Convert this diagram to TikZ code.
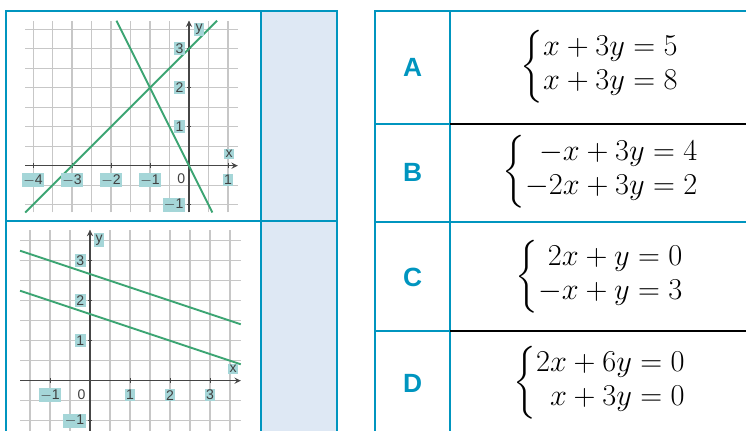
\documentclass[tikz,border=0pt]{standalone}
\usepackage{amsmath}
\usepackage{fontspec}
\usepackage{xcolor}
\newfontfamily\lblfont{Liberation Sans}
\definecolor{tabblue}{RGB}{0,149,191}
\definecolor{cellfill}{RGB}{222,232,244}
\definecolor{linegreen}{RGB}{60,165,115}
\definecolor{hlteal}{RGB}{165,214,216}
\definecolor{axisgray}{RGB}{70,70,70}

\begin{document}
\begin{tikzpicture}[x=0.02cm,y=-0.02cm,>=stealth,
  frame/.style={tabblue,line width=1.2pt},
  gridline/.style={black!22,line width=0.6pt},
  graphline/.style={linegreen,line width=1.1pt},
  axisline/.style={->,axisgray,line width=0.6pt},
  ticklbl/.style={fill=hlteal,inner sep=0.8pt,text=black!75,font=\lblfont\fontsize{8}{9}\selectfont},
  letter/.style={tabblue,font=\lblfont\bfseries\fontsize{15}{18}\selectfont},
  system/.style={font=\fontsize{16}{16}\selectfont}]

\useasboundingbox (0,0) rectangle (746,431);

\fill[cellfill] (261,11) rectangle (337,431);

\begin{scope}[shift={(189,165.7)},x=0.78cm,y=0.78cm]
\foreach \g in {-4,-3.5,...,1} \draw[gridline] (\g,-1.2) -- (\g,3.72);
\foreach \g in {-1,-0.5,...,3.5} \draw[gridline] (-4.2,\g) -- (1.25,\g);
\draw[axisline] (-4.2,0) -- (1.25,0);
\draw[axisline] (0,-1.2) -- (0,3.72);
\foreach \t in {-4,...,-1,1} \draw[axisgray] (\t,-0.06) -- (\t,0.06);
\foreach \t in {-1,1,2,3} \draw[axisgray] (-0.06,\t) -- (0.06,\t);
\draw[graphline] (-4.2,-1.2) -- (0.72,3.72);
\draw[graphline] (-1.86,3.72) -- (0.6,-1.2);
\foreach \t/\s in {-4/$-$4,-3/$-$3,-2/$-$2,-1/$-$1,1/1}
  \node[ticklbl] (xa\t) at (\t,-0.37) {\s};
\foreach \t/\s in {-1/$-$1,1/1,2/2,3/3}
  \node[ticklbl,anchor=east] (ya\t) at (-0.1,\t) {\s};
\node[ticklbl,fill=none] (oa) at (-0.2,-0.34) {0};
\node[ticklbl] (xla) at (1.03,0.3) {x};
\node[ticklbl] (yla) at (0.26,3.5) {y};
\end{scope}

\begin{scope}[shift={(90,380.7)},x=0.8cm,y=0.8cm]
\foreach \g in {-1.5,-1,...,3.5} \draw[gridline] (\g,-1.3) -- (\g,3.77);
\foreach \g in {-1,-0.5,...,3.5} \draw[gridline] (-1.75,\g) -- (3.77,\g);
\draw[axisline] (-1.75,0) -- (3.77,0);
\draw[axisline] (0,-1.3) -- (0,3.77);
\foreach \t in {-1,1,2,3} \draw[axisgray] (\t,-0.06) -- (\t,0.06);
\foreach \t in {-1,1,2,3} \draw[axisgray] (-0.06,\t) -- (0.06,\t);
\draw[graphline] (-1.75,3.25) -- (3.77,1.41);
\draw[graphline] (-1.75,2.25) -- (3.77,0.41);
\foreach \t/\s in {-1/$-$1,1/1,2/2,3/3}
  \node[ticklbl] (xb\t) at (\t,-0.36) {\s};
\foreach \t/\s in {-1/$-$1,1/1,2/2,3/3}
  \node[ticklbl,anchor=east] (yb\t) at (-0.1,\t) {\s};
\node[ticklbl,fill=none] (ob) at (-0.21,-0.34) {0};
\node[ticklbl] (xlb) at (3.58,0.29) {x};
\node[ticklbl] (ylb) at (0.23,3.52) {y};
\end{scope}

\draw[frame] (6,431) -- (6,11) -- (337,11) -- (337,431);
\draw[frame] (261,11) -- (261,431);
\draw[frame] (6,221) -- (337,221);

\draw[frame] (375,431) -- (375,11) -- (746,11);
\draw[frame] (450,11) -- (450,431);
\draw[frame] (375,124) -- (450,124) (375,331) -- (450,331);
\draw[frame] (375,222) -- (746,222);
\draw[black,line width=1.2pt] (450,124) -- (746,124) (450,331) -- (746,331);

\node[letter] (la) at (412.7,67) {A};
\node[letter] (lb) at (412.7,172) {B};
\node[letter] (lc) at (412.7,277) {C};
\node[letter] (ld) at (412.7,383) {D};

\node[system] (sa) at (600,67) {$\left\{\begin{aligned}x+3y&=5\\x+3y&=8\end{aligned}\right.$};
\node[system] (sb) at (601,172) {$\left\{\begin{aligned}-x+3y&=4\\-2x+3y&=2\end{aligned}\right.$};
\node[system] (sc) at (600,277) {$\left\{\begin{aligned}2x+y&=0\\-x+y&=3\end{aligned}\right.$};
\node[system] (sd) at (600,383) {$\left\{\begin{aligned}2x+6y&=0\\x+3y&=0\end{aligned}\right.$};

\end{tikzpicture}
\end{document}
